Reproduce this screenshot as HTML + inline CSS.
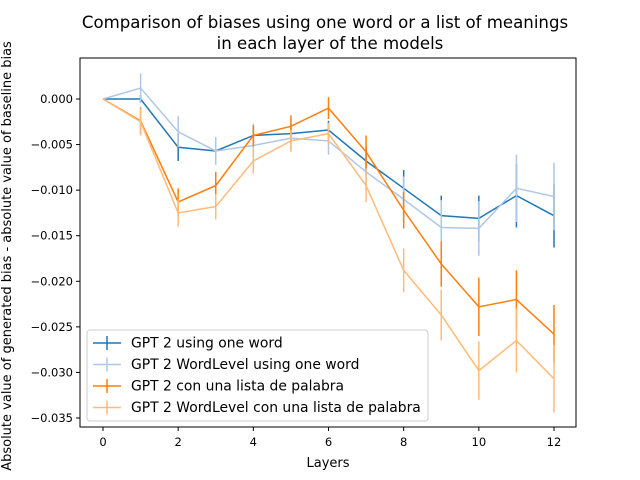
<!DOCTYPE html>
<html><head><meta charset="utf-8"><style>
body{margin:0;background:#fff;}
svg{display:block;font-family:"DejaVu Sans","Liberation Sans",sans-serif;}
</style></head><body>
<svg id="chart" width="640" height="480" viewBox="0 0 640 480">
<text x="325" y="28" font-size="16.6" text-anchor="middle">Comparison of biases using one word or a list of meanings</text>
<text x="330" y="49" font-size="16.6" text-anchor="middle">in each layer of the models</text>
<g id="plot"></g>
<rect x="80" y="58" width="496" height="369" fill="none" stroke="#000" stroke-width="1"/>
<text x="328" y="467" font-size="13" text-anchor="middle">Layers</text>
<text transform="translate(11,256) rotate(-90)" font-size="13" text-anchor="middle">Absolute value of generated bias - absolute value of baseline bias</text>
</svg>
<script>
const layers=[0,1,2,3,4,5,6,7,8,9,10,11,12];
const gptOne=[0,0,-0.0053,-0.0057,-0.0040,-0.0038,-0.0034,-0.0068,-0.0098,-0.0128,-0.0131,-0.0106,-0.0128];
const gptOneErr=[0,0.0004,0.0015,0.0015,0.0010,0.0010,0.0010,0.0015,0.0020,0.0022,0.0025,0.0035,0.0035];
const wlOne=[0,0.0012,-0.0036,-0.0057,-0.0051,-0.0043,-0.0046,-0.0080,-0.0110,-0.0141,-0.0142,-0.0098,-0.0107];
const wlOneErr=[0,0.0016,0.0017,0.0015,0.0012,0.0012,0.0015,0.0020,0.0025,0.0030,0.0030,0.0037,0.0037];
const gptList=[0,-0.0024,-0.0113,-0.0095,-0.0040,-0.0030,-0.0010,-0.0058,-0.0122,-0.0181,-0.0228,-0.0220,-0.0258];
const gptListErr=[0,0.0015,0.0015,0.0015,0.0012,0.0012,0.0012,0.0018,0.0020,0.0025,0.0032,0.0032,0.0032];
const wlList=[0,-0.0025,-0.0125,-0.0118,-0.0068,-0.0046,-0.0038,-0.0095,-0.0188,-0.0237,-0.0298,-0.0265,-0.0307];
const wlListErr=[0,0.0015,0.0015,0.0014,0.0014,0.0012,0.0012,0.0018,0.0024,0.0028,0.0032,0.0035,0.0037];
const xTicks=[0,2,4,6,8,10,12];
const yTicks=[0,-0.005,-0.010,-0.015,-0.020,-0.025,-0.030,-0.035];
const yTickLabels=["0.000","−0.005","−0.010","−0.015","−0.020","−0.025","−0.030","−0.035"];
const seriesNames=["GPT 2 using one word","GPT 2 WordLevel using one word","GPT 2 con una lista de palabra","GPT 2 WordLevel con una lista de palabra"];
const NS="http://www.w3.org/2000/svg";
const xs=v=>103+v*(554-103)/12;
const ys=v=>99+(-v)*(418-99)/0.035;
const g=document.getElementById('plot');
function mk(t,a){const e=document.createElementNS(NS,t);for(const k in a)e.setAttribute(k,a[k]);return e;}
xTicks.forEach((t,i)=>{
 const l=mk('line',{x1:xs(t),x2:xs(t),y1:427,y2:431,stroke:'#000'});
 
 
 g.appendChild(l);
 const tx=mk('text',{x:xs(t),y:446,'font-size':11.5,'text-anchor':'middle'});tx.textContent=t;
 
 
 g.appendChild(tx);
});
yTicks.forEach((t,i)=>{
 const l=mk('line',{x1:76,x2:80,y1:ys(t),y2:ys(t),stroke:'#000'});
 
 
 g.appendChild(l);
 const tx=mk('text',{x:73,y:ys(t)+4,'font-size':11.5,'text-anchor':'end'});tx.textContent=yTickLabels[i];
 
 
 g.appendChild(tx);
});
const series=[[gptOne,gptOneErr,'#1f77b4'],[wlOne,wlOneErr,'#aec7e8'],[gptList,gptListErr,'#ff7f0e'],[wlList,wlListErr,'#ffbb78']];
series.forEach((s,si)=>{
 const grp=mk('g',{});
 
 
 s[0].forEach((v,i)=>{
  const e=mk('line',{x1:xs(layers[i]),x2:xs(layers[i]),y1:ys(v-s[1][i]),y2:ys(v+s[1][i]),stroke:s[2],'stroke-width':1.5});
  
  
  grp.appendChild(e);
 });
 const p=mk('polyline',{points:s[0].map((v,i)=>xs(layers[i])+','+ys(v)).join(' '),fill:'none',stroke:s[2],'stroke-width':1.5});
 
 
 grp.appendChild(p);
 g.appendChild(grp);
});
const lg=mk('g',{});


lg.appendChild(mk('rect',{x:87,y:330,width:341,height:91,rx:3,fill:'#fff','fill-opacity':0.8,stroke:'#ccc'}));
seriesNames.forEach((n,i)=>{
 const y=343+i*21.5;
 const en=mk('g',{});
 
 
 en.appendChild(mk('line',{x1:93,x2:121,y1:y,y2:y,stroke:series[i][2],'stroke-width':1.5}));
 en.appendChild(mk('line',{x1:107,x2:107,y1:y-7,y2:y+7,stroke:series[i][2],'stroke-width':1.5}));
 const t=mk('text',{x:131,y:y+4.5,'font-size':13.9});t.textContent=n;
 en.appendChild(t);
 lg.appendChild(en);
});
g.appendChild(lg);
</script>
</body></html>
